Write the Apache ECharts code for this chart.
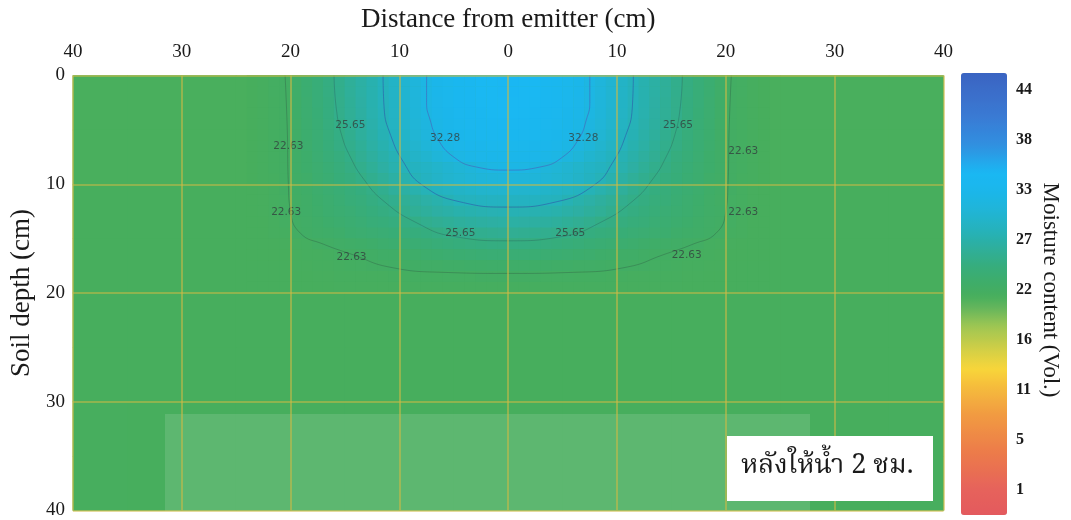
<!DOCTYPE html>
<html><head><meta charset="utf-8">
<script src="https://cdn.jsdelivr.net/npm/echarts@6/dist/echarts.min.js"></script>
<style>html,body{margin:0;padding:0;background:#fff}#c{width:1071px;height:520px}</style>
</head><body><div id="c"></div>
<script>
// ---------- DATA ----------
// Colour-bar tick labels (bottom to top)
const colorbarTicks = ['1','5','11','16','22','27','33','38','44'];
const colorMin = -1.7, colorMax = 45.8;

// Fine grid: 1 cm cells, x centres -23.5..23.5 cm, depth centres 0.5..19.5 cm
const fineXStart = -23.5;
const fineRows = [
[21.8,22.1,22.4,22.6,23.3,24.0,24.6,25.3,26.0,26.8,27.5,28.2,29.0,29.8,30.6,31.5,32.3,33.0,33.5,34.0,34.4,34.7,34.9,35.0, 35.0,34.9,34.7,34.4,34.0,33.5,33.0,32.3,31.5,30.6,29.8,29.0,28.2,27.5,26.8,26.0,25.3,24.6,24.0,23.3,22.6,22.4,22.1,21.8],
[21.8,22.1,22.4,22.6,23.3,24.0,24.6,25.3,26.0,26.8,27.5,28.2,29.0,29.8,30.6,31.5,32.3,33.0,33.5,34.0,34.4,34.7,34.9,35.0, 35.0,34.9,34.7,34.4,34.0,33.5,33.0,32.3,31.5,30.6,29.8,29.0,28.2,27.5,26.8,26.0,25.3,24.6,24.0,23.3,22.6,22.4,22.1,21.8],
[21.8,22.0,22.3,22.6,23.2,23.9,24.6,25.2,25.9,26.7,27.4,28.2,28.9,29.7,30.6,31.4,32.3,32.9,33.5,34.0,34.3,34.6,34.8,34.9, 34.9,34.8,34.6,34.3,34.0,33.5,32.9,32.3,31.4,30.6,29.7,28.9,28.2,27.4,26.7,25.9,25.2,24.6,23.9,23.2,22.6,22.3,22.0,21.8],
[21.8,22.0,22.3,22.6,23.2,23.9,24.5,25.2,25.9,26.6,27.3,28.1,28.8,29.6,30.5,31.3,32.1,32.8,33.3,33.8,34.1,34.4,34.6,34.7, 34.7,34.6,34.4,34.1,33.8,33.3,32.8,32.1,31.3,30.5,29.6,28.8,28.1,27.3,26.6,25.9,25.2,24.5,23.9,23.2,22.6,22.3,22.0,21.8],
[21.8,22.0,22.3,22.6,23.1,23.8,24.4,25.1,25.7,26.5,27.2,27.9,28.7,29.5,30.3,31.1,31.9,32.6,33.1,33.5,33.9,34.1,34.3,34.4, 34.4,34.3,34.1,33.9,33.5,33.1,32.6,31.9,31.1,30.3,29.5,28.7,27.9,27.2,26.5,25.7,25.1,24.4,23.8,23.1,22.6,22.3,22.0,21.8],
[21.8,22.0,22.3,22.6,23.1,23.7,24.3,24.9,25.5,26.2,27.0,27.7,28.5,29.2,30.0,30.8,31.6,32.3,32.8,33.2,33.5,33.8,33.9,34.0, 34.0,33.9,33.8,33.5,33.2,32.8,32.3,31.6,30.8,30.0,29.2,28.5,27.7,27.0,26.2,25.5,24.9,24.3,23.7,23.1,22.6,22.3,22.0,21.8],
[21.8,22.0,22.3,22.5,23.0,23.6,24.2,24.8,25.4,26.0,26.7,27.5,28.2,28.9,29.6,30.4,31.2,31.9,32.5,32.9,33.2,33.4,33.5,33.6, 33.6,33.5,33.4,33.2,32.9,32.5,31.9,31.2,30.4,29.6,28.9,28.2,27.5,26.7,26.0,25.4,24.8,24.2,23.6,23.0,22.5,22.3,22.0,21.8],
[21.8,22.0,22.3,22.5,23.0,23.5,24.1,24.6,25.1,25.7,26.4,27.1,27.8,28.5,29.2,29.9,30.5,31.2,31.8,32.4,32.7,32.9,33.0,33.1, 33.1,33.0,32.9,32.7,32.4,31.8,31.2,30.5,29.9,29.2,28.5,27.8,27.1,26.4,25.7,25.1,24.6,24.1,23.5,23.0,22.5,22.3,22.0,21.8],
[21.8,22.0,22.3,22.5,23.0,23.5,23.9,24.4,24.9,25.4,26.0,26.7,27.4,28.1,28.8,29.3,29.7,30.1,30.6,31.0,31.4,31.9,32.3,32.5, 32.5,32.3,31.9,31.4,31.0,30.6,30.1,29.7,29.3,28.8,28.1,27.4,26.7,26.0,25.4,24.9,24.4,23.9,23.5,23.0,22.5,22.3,22.0,21.8],
[21.8,22.0,22.2,22.5,22.9,23.3,23.8,24.2,24.7,25.1,25.6,26.2,26.8,27.5,28.1,28.8,29.4,29.9,30.4,30.7,31.0,31.3,31.4,31.5, 31.5,31.4,31.3,31.0,30.7,30.4,29.9,29.4,28.8,28.1,27.5,26.8,26.2,25.6,25.1,24.7,24.2,23.8,23.3,22.9,22.5,22.2,22.0,21.8],
[21.8,21.9,22.2,22.5,22.8,23.2,23.6,24.0,24.4,24.8,25.2,25.6,26.2,26.9,27.5,28.1,28.7,29.2,29.5,29.8,30.0,30.2,30.3,30.4, 30.4,30.3,30.2,30.0,29.8,29.5,29.2,28.7,28.1,27.5,26.9,26.2,25.6,25.2,24.8,24.4,24.0,23.6,23.2,22.8,22.5,22.2,21.9,21.8],
[21.8,21.9,22.2,22.4,22.7,23.1,23.5,23.8,24.2,24.6,24.9,25.3,25.7,26.1,26.6,27.1,27.6,28.0,28.5,29.0,29.1,29.3,29.4,29.4, 29.4,29.4,29.3,29.1,29.0,28.5,28.0,27.6,27.1,26.6,26.1,25.7,25.3,24.9,24.6,24.2,23.8,23.5,23.1,22.7,22.4,22.2,21.9,21.8],
[21.8,21.9,22.2,22.5,22.8,23.1,23.4,23.7,24.0,24.3,24.6,25.0,25.3,25.6,26.1,26.6,27.0,27.4,27.7,28.0,28.2,28.3,28.4,28.5, 28.5,28.4,28.3,28.2,28.0,27.7,27.4,27.0,26.6,26.1,25.6,25.3,25.0,24.6,24.3,24.0,23.7,23.4,23.1,22.8,22.5,22.2,21.9,21.8],
[21.8,21.8,22.1,22.4,22.7,22.9,23.2,23.5,23.7,24.0,24.3,24.6,24.8,25.1,25.4,25.7,26.1,26.4,26.7,27.0,27.2,27.3,27.4,27.5, 27.5,27.4,27.3,27.2,27.0,26.7,26.4,26.1,25.7,25.4,25.1,24.8,24.6,24.3,24.0,23.7,23.5,23.2,22.9,22.7,22.4,22.1,21.8,21.8],
[21.8,21.8,22.0,22.2,22.5,22.8,23.0,23.2,23.4,23.7,23.9,24.1,24.3,24.5,24.8,25.0,25.2,25.4,25.6,25.9,26.1,26.2,26.3,26.4, 26.4,26.3,26.2,26.1,25.9,25.6,25.4,25.2,25.0,24.8,24.5,24.3,24.1,23.9,23.7,23.4,23.2,23.0,22.8,22.5,22.2,22.0,21.8,21.8],
[21.8,21.8,21.8,21.9,22.0,22.2,22.5,22.7,22.9,23.0,23.2,23.4,23.6,23.8,24.0,24.2,24.4,24.6,24.8,25.0,25.1,25.2,25.3,25.3, 25.3,25.3,25.2,25.1,25.0,24.8,24.6,24.4,24.2,24.0,23.8,23.6,23.4,23.2,23.0,22.9,22.7,22.5,22.2,22.0,21.9,21.8,21.8,21.8],
[21.8,21.8,21.8,21.8,21.9,22.0,22.1,22.2,22.4,22.6,22.7,22.8,23.0,23.1,23.3,23.4,23.6,23.7,23.9,24.0,24.1,24.2,24.3,24.3, 24.3,24.3,24.2,24.1,24.0,23.9,23.7,23.6,23.4,23.3,23.1,23.0,22.8,22.7,22.6,22.4,22.2,22.1,22.0,21.9,21.8,21.8,21.8,21.8],
[21.8,21.8,21.8,21.8,21.9,21.9,22.0,22.1,22.2,22.3,22.4,22.5,22.6,22.7,22.7,22.8,22.9,22.9,23.0,23.1,23.2,23.2,23.3,23.3, 23.3,23.3,23.2,23.2,23.1,23.0,22.9,22.9,22.8,22.7,22.7,22.6,22.5,22.4,22.3,22.2,22.1,22.0,21.9,21.9,21.8,21.8,21.8,21.8],
[21.8,21.8,21.8,21.8,21.8,21.8,21.9,21.9,22.0,22.0,22.0,22.1,22.1,22.2,22.2,22.3,22.3,22.3,22.4,22.4,22.4,22.5,22.5,22.5, 22.5,22.5,22.5,22.4,22.4,22.4,22.3,22.3,22.3,22.2,22.2,22.1,22.1,22.0,22.0,22.0,21.9,21.9,21.8,21.8,21.8,21.8,21.8,21.8],
[21.8,21.8,21.8,21.8,21.8,21.8,21.8,21.8,21.9,21.9,21.9,21.9,21.9,21.9,22.0,22.0,22.0,22.0,22.0,22.0,22.1,22.1,22.1,22.1, 22.1,22.1,22.1,22.1,22.0,22.0,22.0,22.0,22.0,22.0,21.9,21.9,21.9,21.9,21.9,21.9,21.8,21.8,21.8,21.8,21.8,21.8,21.8,21.8]
];

// Coarse background grid: 5 cm cells, 16 columns (-40..40) x 8 rows (0..40 cm)
const coarseRows = [
[21.7,21.7,21.7,21.7,21.7,21.7,21.8,21.8,21.8,21.8,21.7,21.7,21.7,21.7,21.7,21.7],
[21.7,21.7,21.7,21.7,21.7,21.7,21.8,21.8,21.8,21.8,21.7,21.7,21.7,21.7,21.7,21.7],
[21.8,21.8,21.8,21.8,21.8,21.8,21.8,21.8,21.8,21.8,21.8,21.8,21.8,21.8,21.8,21.8],
[21.8,21.8,21.8,21.8,21.8,21.8,21.8,21.8,21.8,21.8,21.8,21.8,21.8,21.8,21.8,21.8],
[21.8,21.8,21.8,21.8,21.8,21.8,21.8,21.8,21.8,21.8,21.8,21.8,21.8,21.8,21.8,21.8],
[21.8,21.8,21.8,21.8,21.8,21.8,21.8,21.8,21.8,21.8,21.8,21.8,21.8,21.8,21.8,21.8],
[21.9,21.8,21.8,21.8,21.8,21.8,21.8,21.8,21.8,21.8,21.8,21.8,21.8,21.8,21.8,21.9],
[21.9,21.8,21.8,21.8,21.8,21.8,21.8,21.8,21.8,21.8,21.8,21.8,21.8,21.8,21.8,21.9]
];

// Contour lines [x cm, depth cm]
const contour3228 = [[-7.5,0],[-7.5,2.5],[-7.2,4],[-6.5,5.8],[-5,7.5],[-3,8.4],[0,8.7],[3,8.4],[5,7.5],[6.5,5.8],[7.2,4],[7.5,2.5],[7.5,0]];
const contourMid = [[-11.5,0],[-11.4,3],[-10.8,5.5],[-9.6,8],[-8,10],[-4.5,11.6],[0,12.1],[4.5,11.6],[8,10],[9.6,8],[10.8,5.5],[11.4,3],[11.5,0]];
const contour2565 = [[-16,0],[-15.8,3],[-15.3,5.5],[-14.5,7.5],[-13.3,9.5],[-11.5,11.5],[-8.5,13.5],[-5,14.8],[0,15.2],[5,14.8],[8.5,13.5],[11.5,11.5],[13.3,9.5],[14.5,7.5],[15.3,5.5],[15.8,3],[16,0]];
const contour2263 = [[-20.5,0],[-20.3,5],[-20.2,10],[-20,12.5],[-19.1,14.5],[-17,15.5],[-14.2,16.5],[-11,17.6],[-6,18.1],[0,18.2],[6,18.1],[11,17.6],[14.2,16.5],[17,15.5],[19.1,14.5],[20,12.5],[20.2,10],[20.3,5],[20.5,0]];

// Contour label positions [x cm, depth cm]
const labels3228 = [[-5.8,5.8],[6.9,5.8]];
const labels2565 = [[-14.5,4.6],[15.6,4.6],[-4.4,14.5],[5.7,14.5]];
const labels2263 = [[-20.2,6.5],[21.6,7.0],[-20.4,12.6],[21.6,12.6],[-14.4,16.7],[16.4,16.5]];

const noteText = 'หลังให้น้ำ 2 ชม.';

// ---------- BUILD ----------
const fineX = []; for (let i = 0; i < 80; i++) fineX.push(String(-39.5 + i));
const fineY = []; for (let i = 0; i < 40; i++) fineY.push(String(0.5 + i));
const coarseX = []; for (let i = 0; i < 16; i++) coarseX.push(String(-37.5 + 5 * i));
const coarseY = []; for (let i = 0; i < 8; i++) coarseY.push(String(2.5 + 5 * i));

const fineOffset = fineX.indexOf(String(fineXStart));
const fineData = [];
fineRows.forEach((row, r) => row.forEach((v, c) => fineData.push([c + fineOffset, r, v])));
const coarseData = [];
coarseRows.forEach((row, r) => row.forEach((v, c) => coarseData.push([c, r, v])));

// colour map (style)
const cStops = [[-1.7,'#e35a5e'],[1,'#e6625b'],[5,'#ec7b4a'],[9,'#f19a42'],[12,'#f5bb3c'],[14,'#f8d63a'],[16,'#d3cf46'],[18.5,'#a0c652'],[20.5,'#66b65c'],[21.8,'#47ae5d'],[23,'#40ad66'],[25,'#36ad7c'],[27,'#2eaf9c'],[29,'#25b2bc'],[31,'#20b5d6'],[33,'#1bb6ea'],[35,'#1ab8f3'],[38,'#3090e0'],[41,'#3a7bd4'],[44,'#3b6cc8'],[45.8,'#3a64c2']];
function hex(h){return [parseInt(h.slice(1,3),16),parseInt(h.slice(3,5),16),parseInt(h.slice(5,7),16)];}
function colorAt(v){
  for (let i = 1; i < cStops.length; i++) {
    if (v <= cStops[i][0]) {
      const a = cStops[i-1], b = cStops[i];
      const t = (v - a[0]) / (b[0] - a[0]);
      const ca = hex(a[1]), cb = hex(b[1]);
      return 'rgb(' + ca.map((x, k) => Math.round(x + (cb[k] - x) * t)).join(',') + ')';
    }
  }
  return cStops[cStops.length-1][1];
}
const palette = []; const N = 191;
for (let i = 0; i < N; i++) palette.push(colorAt(colorMin + (colorMax - colorMin) * i / (N - 1)));

const serif = "'Liberation Serif','Times New Roman',serif";
function lineSeries(data, color){
  return {type:'line', xAxisIndex:0, yAxisIndex:0, data:data, smooth:0.5, showSymbol:false, symbol:'none', z:4,
    lineStyle:{color:color, width:1}, silent:true, animation:false};
}
function labelSeries(data, txt){
  return {type:'scatter', xAxisIndex:0, yAxisIndex:0, data:data, symbolSize:0, z:6, silent:true,
    label:{show:true, position:'inside', formatter:txt, color:'#33413f', fontSize:10.5, fontFamily:"'DejaVu Sans',sans-serif"}};
}
const gridLineStyle = {color:'rgba(206,186,70,0.7)', width:1.6};

const chart = echarts.init(document.getElementById('c'));
chart.setOption({
  animation:false,
  backgroundColor:'#ffffff',
  grid:[
    {left:71.5, top:75.5, width:872, height:440, show:true, backgroundColor:'#47ae5d', borderWidth:0},
    {left:1006, top:65, width:1, height:450}
  ],
  xAxis:[
    {gridIndex:0, type:'value', min:-40, max:40, interval:10, position:'top', zlevel:1,
      name:'Distance from emitter (cm)', nameLocation:'middle', nameGap:42,
      nameTextStyle:{fontFamily:serif, fontSize:27, color:'#1a1a1a'},
      axisLine:{show:false}, axisTick:{show:false},
      axisLabel:{formatter:v => String(Math.abs(v)), fontFamily:serif, fontSize:19, color:'#1a1a1a', margin:14},
      splitLine:{show:true, lineStyle:gridLineStyle}},
    {gridIndex:0, type:'category', data:fineX, show:false},
    {gridIndex:0, type:'category', data:coarseX, show:false},
    {gridIndex:1, type:'value', show:false}
  ],
  yAxis:[
    {gridIndex:0, type:'value', min:0, max:40, interval:10, inverse:true, zlevel:1,
      name:'Soil depth (cm)', nameLocation:'middle', nameGap:34, nameRotate:90,
      nameTextStyle:{fontFamily:serif, fontSize:27, color:'#1a1a1a'},
      axisLine:{show:false}, axisTick:{show:false},
      axisLabel:{fontFamily:serif, fontSize:19, color:'#1a1a1a', margin:8},
      splitLine:{show:true, lineStyle:gridLineStyle}},
    {gridIndex:0, type:'category', data:fineY, inverse:true, show:false},
    {gridIndex:0, type:'category', data:coarseY, inverse:true, show:false},
    {gridIndex:1, type:'category', data:colorbarTicks, position:'right',
      axisLine:{show:false}, axisTick:{show:false},
      axisLabel:{fontFamily:serif, fontSize:16, fontWeight:'bold', color:'#1a1a1a', margin:9},
      name:'Moisture content (Vol.)', nameLocation:'middle', nameRotate:-90, nameGap:32,
      nameTextStyle:{fontFamily:serif, fontSize:23, color:'#1a1a1a'}}
  ],
  visualMap:{type:'continuous', min:colorMin, max:colorMax, seriesIndex:[0,1], calculable:false, hoverLink:false,
    left:961, top:73, itemWidth:46, itemHeight:442, padding:0, text:null, showLabel:false,
    inRange:{color:palette}},
  series:[
    {type:'heatmap', xAxisIndex:2, yAxisIndex:2, data:coarseData, z:1, progressive:0, silent:true, emphasis:{disabled:true}},
    {type:'heatmap', xAxisIndex:1, yAxisIndex:1, data:fineData, z:2, progressive:0, silent:true, emphasis:{disabled:true}},
    lineSeries(contour3228, 'rgba(80,80,180,0.5)'),
    lineSeries(contourMid, 'rgba(45,80,165,0.55)'),
    lineSeries(contour2565, 'rgba(40,75,80,0.3)'),
    lineSeries(contour2263, 'rgba(40,70,60,0.3)'),
    labelSeries(labels3228, '32.28'),
    labelSeries(labels2565, '25.65'),
    labelSeries(labels2263, '22.63')
  ],
  graphic:[
    {type:'rect', left:165, top:414, z:50, silent:true, shape:{width:645, height:103}, style:{fill:'rgba(255,255,255,0.12)'}},
    {type:'rect', left:727, top:436, z:60, zlevel:2, shape:{width:206, height:65}, style:{fill:'#ffffff'}},
    {type:'text', left:741, top:455, z:61, zlevel:2,
      style:{text:noteText, fill:'#1a1a1a', fontSize:27,
        fontFamily:"'Noto Serif Thai','Noto Sans Thai','Loma','Garuda','Liberation Serif',serif"}}
  ]
});
</script></body></html>
